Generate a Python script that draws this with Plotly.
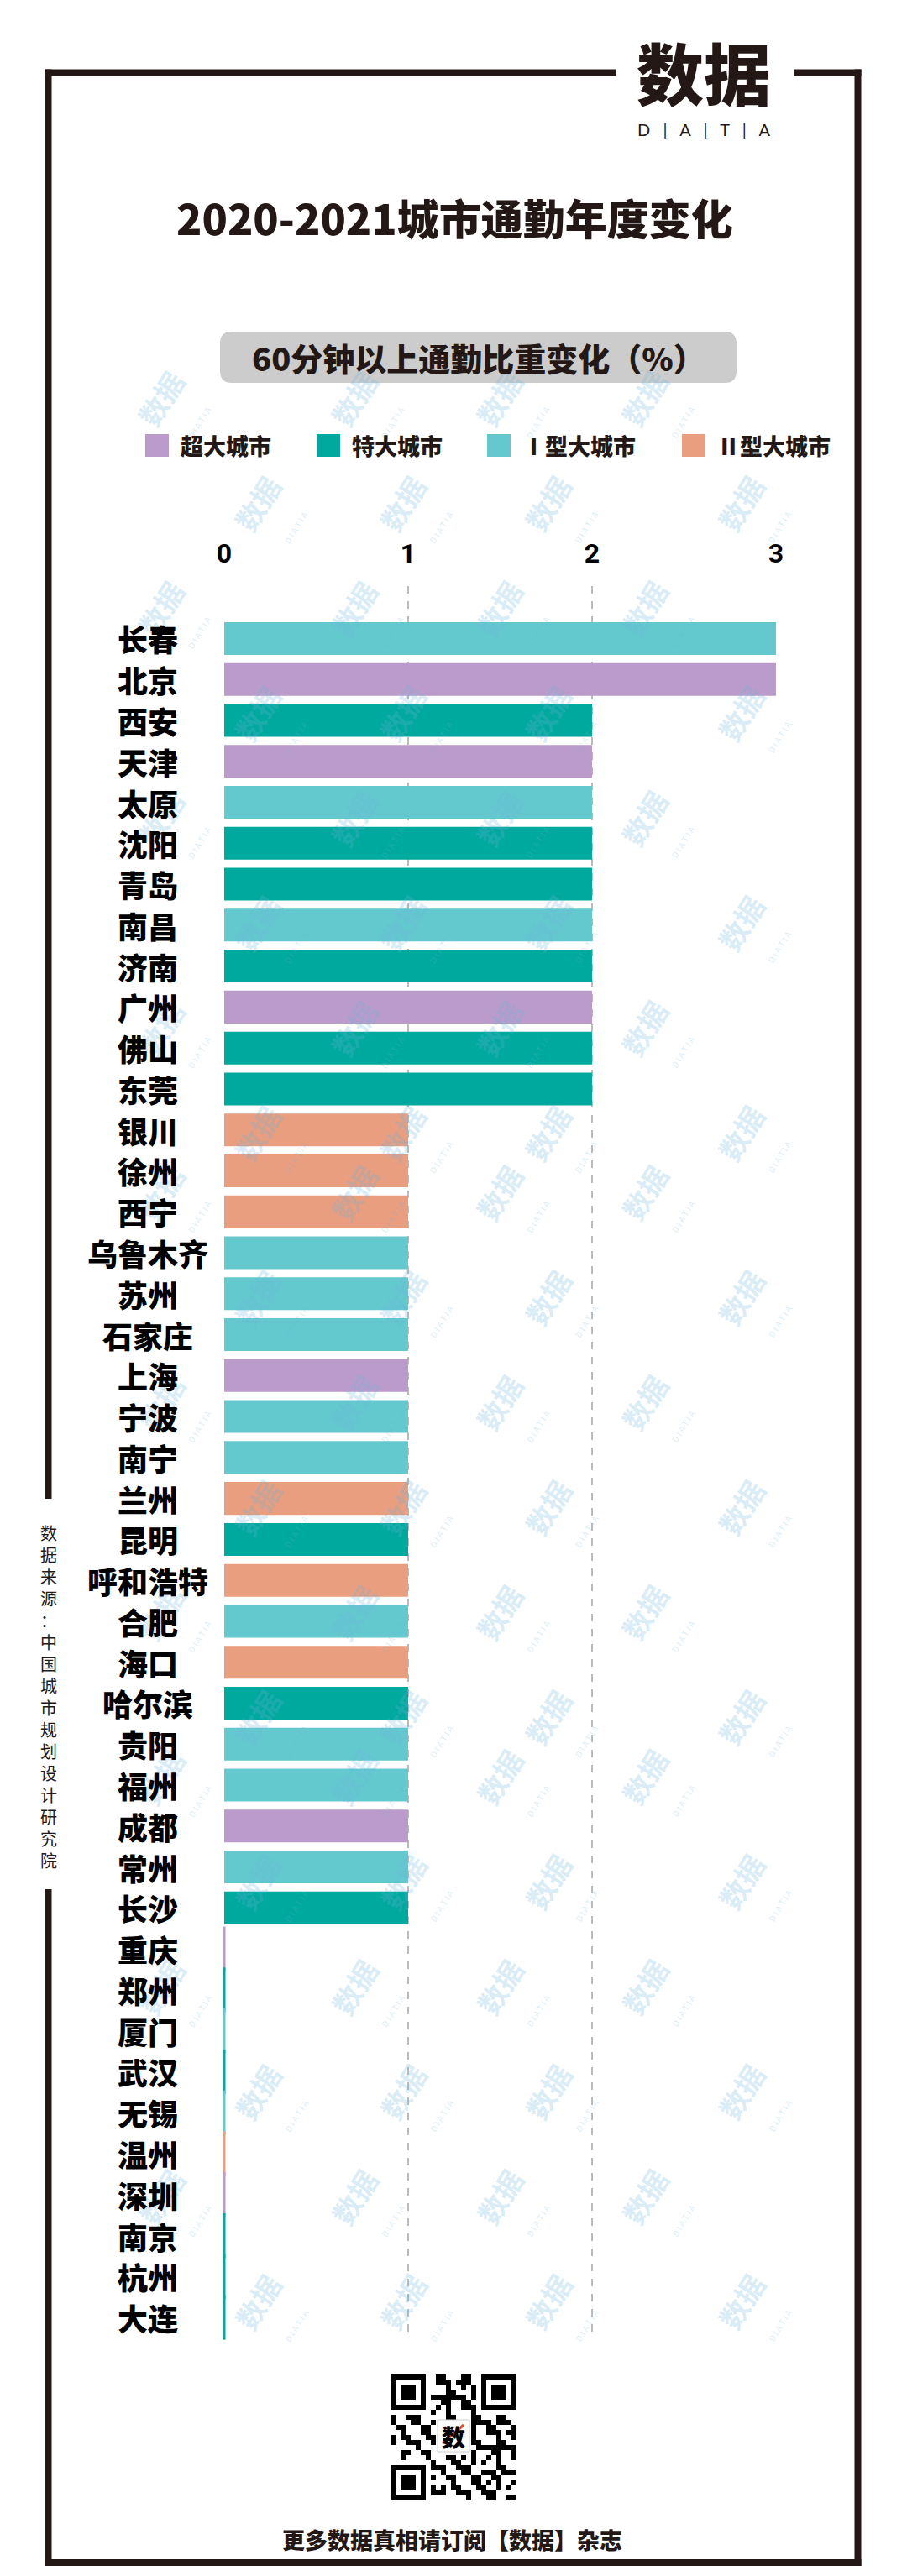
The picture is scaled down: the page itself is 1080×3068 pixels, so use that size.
import plotly.graph_objects as go

# ---------------- data ----------------
cities = ["长春", "北京", "西安", "天津", "太原", "沈阳", "青岛", "南昌", "济南", "广州", "佛山", "东莞",
          "银川", "徐州", "西宁", "乌鲁木齐", "苏州", "石家庄", "上海", "宁波", "南宁", "兰州", "昆明",
          "呼和浩特", "合肥", "海口", "哈尔滨", "贵阳", "福州", "成都", "常州", "长沙",
          "重庆", "郑州", "厦门", "武汉", "无锡", "温州", "深圳", "南京", "杭州", "大连"]
values = [3, 3, 2, 2, 2, 2, 2, 2, 2, 2, 2, 2,
          1, 1, 1, 1, 1, 1, 1, 1, 1, 1, 1,
          1, 1, 1, 1, 1, 1, 1, 1, 1,
          0, 0, 0, 0, 0, 0, 0, 0, 0, 0]
city_types = ["Ⅰ型大城市", "超大城市", "特大城市", "超大城市", "Ⅰ型大城市", "特大城市", "特大城市", "Ⅰ型大城市",
              "特大城市", "超大城市", "特大城市", "特大城市",
              "Ⅱ型大城市", "Ⅱ型大城市", "Ⅱ型大城市", "Ⅰ型大城市", "Ⅰ型大城市", "Ⅰ型大城市", "超大城市",
              "Ⅰ型大城市", "Ⅰ型大城市", "Ⅱ型大城市", "特大城市",
              "Ⅱ型大城市", "Ⅰ型大城市", "Ⅱ型大城市", "特大城市", "Ⅰ型大城市", "Ⅰ型大城市", "超大城市",
              "Ⅰ型大城市", "特大城市",
              "超大城市", "特大城市", "Ⅰ型大城市", "特大城市", "Ⅰ型大城市", "Ⅱ型大城市", "超大城市",
              "特大城市", "特大城市", "特大城市"]
legend_types = ["超大城市", "特大城市", "Ⅰ型大城市", "Ⅱ型大城市"]
type_colors = {"超大城市": "#BB9BCB", "特大城市": "#00A99D", "Ⅰ型大城市": "#64C8CF", "Ⅱ型大城市": "#E99E80"}
x_ticks = [0, 1, 2, 3]
x_tick_labels = ["0", "1", "2", "3"]

title_text = "2020-2021城市通勤年度变化"
subtitle_text = "60分钟以上通勤比重变化（%）"
source_text = "数据来源：中国城市规划设计研究院"
footer_text = "更多数据真相请订阅【数据】杂志"

# ---------------- layout geometry (pixels) ----------------
W, H = 1080, 3068
PL, PR, PT, PB = 267, 924, 698, 2782
INK = "#231815"
CJK = "Noto Sans CJK SC"


def px(x):
    return (x - PL) / (PR - PL)


def py(y):
    return (PB - y) / (PB - PT)


colors = [type_colors[t] for t in city_types]

fig = go.Figure()
fig.add_trace(go.Bar(
    y=cities, x=values, orientation="h",
    marker=dict(color=colors, line=dict(width=0)),
    showlegend=False, hoverinfo="x+y",
))
# zero-value bars appear as thin slivers on the axis
zc = [c for c, v in zip(cities, values) if v == 0]
zv = [v for v in values if v == 0]
zcol = [type_colors[t] for t, v in zip(city_types, values) if v == 0]
fig.add_trace(go.Scatter(
    y=zc, x=zv, mode="markers", cliponaxis=False, showlegend=False, hoverinfo="skip",
    marker=dict(symbol="line-ns", size=38, color=zcol, line=dict(color=zcol, width=3)),
))

shapes = []
annotations = []


def line(x0, y0, x1, y1, w=8, c=INK):
    shapes.append(dict(type="line", xref="paper", yref="paper", x0=px(x0), y0=py(y0), x1=px(x1), y1=py(y1),
                       line=dict(color=c, width=w), layer="above"))


def rect(x0, y0, x1, y1, fill, layer="above"):
    shapes.append(dict(type="rect", xref="paper", yref="paper", x0=px(x0), y0=py(y0), x1=px(x1), y1=py(y1),
                       fillcolor=fill, line=dict(width=0), layer=layer))


def rounded_rect(x0, y0, x1, y1, r, fill):
    P = lambda x, y: f"{px(x):.6f},{py(y):.6f}"
    path = (f"M {P(x0 + r, y0)} L {P(x1 - r, y0)} Q {P(x1, y0)} {P(x1, y0 + r)} "
            f"L {P(x1, y1 - r)} Q {P(x1, y1)} {P(x1 - r, y1)} "
            f"L {P(x0 + r, y1)} Q {P(x0, y1)} {P(x0, y1 - r)} "
            f"L {P(x0, y0 + r)} Q {P(x0, y0)} {P(x0 + r, y0)} Z")
    shapes.append(dict(type="path", xref="paper", yref="paper", path=path, fillcolor=fill,
                       line=dict(width=0), layer="below"))


def text(x, y, t, size, color=INK, weight="bold", family=CJK, xanchor="center", angle=0, yanchor="middle"):
    annotations.append(dict(xref="paper", yref="paper", x=px(x), y=py(y), text=t, showarrow=False,
                            xanchor=xanchor, yanchor=yanchor, textangle=angle,
                            font=dict(size=size, color=color, family=family, weight=weight)))


# ---------------- watermarks ----------------
for r, yy in enumerate(range(430, 2820, 125)):
    off = 0 if r % 2 == 0 else 115
    for xx in range(150 + off, 1010, 230):
        annotations.append(dict(
            xref="paper", yref="paper", x=px(xx), y=py(yy), showarrow=False, textangle=-58,
            text="<b>数据</b><br><span style='font-size:10px'>D I A T I A</span>",
            font=dict(size=34, color="rgba(110,180,220,0.26)", family=CJK)))

# ---------------- frame ----------------
line(53.5, 86.5, 733, 86.5)
line(945, 86.5, 1025.5, 86.5)
line(1021.5, 82.5, 1021.5, 3056)
line(53.5, 3052, 1025.5, 3052)
line(57.5, 82.5, 57.5, 1785)
line(57.5, 2250, 57.5, 3056)

# logo
text(838, 84, "数据", 80, weight=900)
text(838, 154, "D   |   A   |   T   |   A", 20, weight="normal", family="Lato")

# title
text(541, 258, title_text, 50, weight=900)

# subtitle box
rounded_rect(262, 395, 877, 456, 14, "#CCCCCC")
text(570, 426, subtitle_text, 38, weight=900)

# legend
leg_sq = [173, 377, 580, 812]
for t, x0 in zip(legend_types, leg_sq):
    rect(x0, 517, x0 + 28, 544, type_colors[t])
    text(x0 + 40, 531, t, 27, xanchor="left", weight=900)

# y labels centred at x=176
for c in cities:
    annotations.append(dict(xref="paper", yref="y", x=px(176), y=c, text=c, showarrow=False,
                            xanchor="center", yanchor="middle",
                            font=dict(size=36, color="#000000", family=CJK, weight=900)))

# source (vertical)
text(57.5, 2020, "<br>".join(list(source_text)), 20, weight="normal")

# footer
text(538, 3024, footer_text, 27, weight=900)

# ---------------- QR-like block ----------------
N, M = 25, 6
QX, QY = 465, 2828


def finder(i, j):
    for (fi, fj) in [(0, 0), (0, N - 7), (N - 7, 0)]:
        if fi <= i < fi + 7 and fj <= j < fj + 7:
            a, b = i - fi, j - fj
            return a in (0, 6) or b in (0, 6) or (2 <= a <= 4 and 2 <= b <= 4)
    return None


def near_finder(i, j):
    for (fi, fj) in [(0, 0), (0, N - 8), (N - 8, 0)]:
        if fi <= i < fi + 8 and fj <= j < fj + 8:
            return True
    return False


for i in range(N):
    row = []
    for j in range(N):
        f = finder(i, j)
        if f is not None:
            on = f
        elif near_finder(i, j):
            on = False
        elif 9 <= i <= 15 and 9 <= j <= 15:
            on = False
        else:
            on = ((i * 7 + j * 11 + (i * j) % 5) % 9) < 4
        row.append(on)
    j = 0
    while j < N:
        if row[j]:
            k = j
            while k < N and row[k]:
                k += 1
            rect(QX + j * M, QY + i * M, QX + k * M, QY + (i + 1) * M, "#000000")
            j = k
        else:
            j += 1
shapes.append(dict(type="rect", xref="paper", yref="paper", x0=px(521), x1=px(559), y0=py(2920), y1=py(2882),
                   fillcolor="#FFFFFF", line=dict(color="#CCCCCC", width=1), layer="above"))
text(540, 2902, "数", 28, color="#000000", weight=900)
line(527, 2910, 552, 2888, w=3, c="#D9502C")

fig.update_layout(
    width=W, height=H,
    margin=dict(l=PL, r=W - PR, t=PT, b=H - PB),
    paper_bgcolor="white", plot_bgcolor="white",
    shapes=shapes, annotations=annotations,
    bargap=0.2,
    xaxis=dict(range=[0, 3], side="top", tickvals=x_ticks, ticktext=x_tick_labels,
               showgrid=True, gridcolor="#BBBBBB", griddash="dash", gridwidth=1.5,
               zeroline=False, showline=False, ticks="outside", ticklen=14, tickcolor="rgba(0,0,0,0)",
               tickfont=dict(size=32, family="Roboto", color="#000000", weight="bold"), fixedrange=True),
    yaxis=dict(categoryorder="array", categoryarray=cities, range=[len(cities) - 1 + 0.45, -1.28],
               showticklabels=False, showgrid=False, zeroline=False, showline=False, fixedrange=True),
    font=dict(family=CJK),
)

fig.write_html("out.html")
